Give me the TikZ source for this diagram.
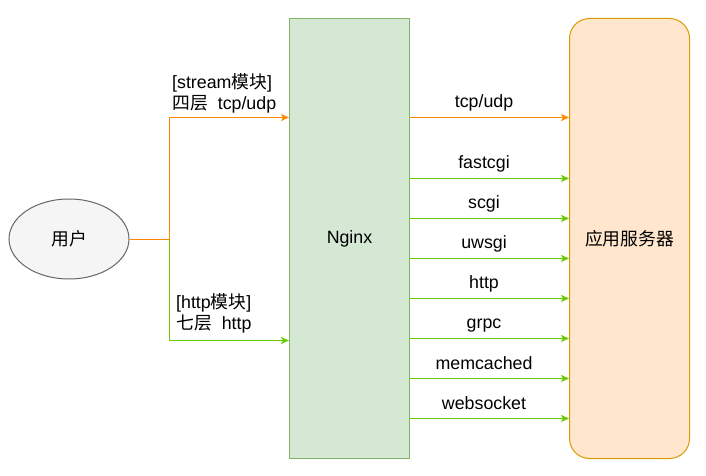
\documentclass[tikz,border=0pt]{standalone}
\usepackage{fontspec}
\setmainfont{Liberation Sans}
\newfontfamily\cjk{Noto Sans CJK SC}
\usetikzlibrary{shapes.geometric,arrows.meta}
\definecolor{orangeline}{HTML}{FF8800}
\definecolor{greenline}{HTML}{66CC00}
\definecolor{nginxfill}{HTML}{D5E8D4}
\definecolor{nginxdraw}{HTML}{82B366}
\definecolor{appfill}{HTML}{FFE6CC}
\definecolor{appdraw}{HTML}{D79B00}
\definecolor{userfill}{HTML}{F5F5F5}
\definecolor{userdraw}{HTML}{666666}
\begin{document}
\begin{tikzpicture}[x=1bp,y=-1bp,
  font=\fontsize{17.8bp}{21bp}\selectfont,
  userbox/.style={ellipse,draw=userdraw,fill=userfill,line width=1bp,minimum width=120bp,minimum height=80bp,inner sep=0pt},
  nginxbox/.style={rectangle,draw=nginxdraw,fill=nginxfill,line width=1bp,minimum width=120bp,minimum height=440bp,inner sep=0pt},
  appbox/.style={rectangle,rounded corners=20bp,draw=appdraw,fill=appfill,line width=1bp,minimum width=120bp,minimum height=440bp,inner sep=0pt},
  conn/.style={line width=1.6bp,-{Stealth[length=8bp,width=7bp,inset=2bp]}},
  orangeconn/.style={conn,color=orangeline},
  greenconn/.style={conn,color=greenline},
  lbl/.style={inner sep=0pt,anchor=base,text=black},
  sidelbl/.style={inner sep=0pt,anchor=base west,text=black}
]
\useasboundingbox (0,0) rectangle (706,476);

\node[userbox] (user) at (69,239) {{\cjk 用户}};
\node[nginxbox] (nginx) at (349.5,238.5) {Nginx};
\node[appbox] (app) at (629.5,238.5) {{\cjk 应用服务器}};

% left branches
\coordinate (br) at (169.5,239.5);
\coordinate (brtop) at (169.5,117.5);
\coordinate (brbot) at (169.5,340.5);
\draw[line width=1.6bp,color=orangeline] (user.east |- br) -- (br);
\draw[orangeconn] (br) -- (brtop) -- (nginx.west |- brtop);
\draw[greenconn] (br) -- (brbot) -- (nginx.west |- brbot);

\node[sidelbl] (l1a) at (172,89) {[stream{\cjk 模块}]};
\node[sidelbl] (l1b) at (172,110) {{\cjk 四层}\hspace{10bp}tcp/udp};
\node[sidelbl] (l2a) at (176,309) {[http{\cjk 模块}]};
\node[sidelbl] (l2b) at (176,330) {{\cjk 七层}\hspace{10bp}http};

% right arrows
\coordinate (r0) at (0,117.5);
\draw[orangeconn] (nginx.east |- r0) -- (app.west |- r0);
\node[lbl] (t0) at (484,108) {tcp/udp};

\foreach \y/\t [count=\i] in {178/fastcgi,218/scgi,258/uwsgi,298/http,338/grpc,378/memcached,418/websocket}{
  \coordinate (r\i) at (0,\y+0.5);
  \draw[greenconn] (nginx.east |- r\i) -- (app.west |- r\i);
  \node[lbl] (t\i) at (484,\y-9) {\t};
}
\end{tikzpicture}
\end{document}
